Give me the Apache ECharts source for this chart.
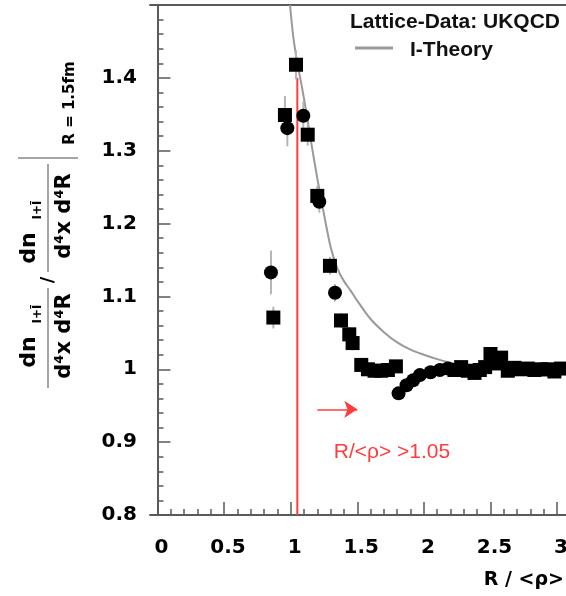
<!DOCTYPE html>
<html><head><meta charset="utf-8">
<script src="https://cdn.jsdelivr.net/npm/echarts@6/dist/echarts.min.js"></script>
<style>html,body{margin:0;padding:0;background:#fff}#c{width:566px;height:596px}</style>
</head><body><div id="c"></div>
<script>
// ---- data ----
const squareX   = [0.87, 0.957, 1.04, 1.128, 1.20, 1.295, 1.378, 1.44, 1.465, 1.53, 1.58, 1.63, 1.68, 1.73, 1.79, 2.23, 2.28, 2.33, 2.38, 2.42, 2.46, 2.50, 2.55, 2.58, 2.63, 2.68, 2.73, 2.78, 2.83, 2.88, 2.93, 2.98, 3.03];
const squareY   = [1.071, 1.349, 1.418, 1.322, 1.238, 1.142, 1.067, 1.048, 1.036, 1.006, 1.000, 0.998, 0.998, 0.999, 1.004, 0.999, 1.003, 0.998, 0.995, 0.999, 1.003, 1.021, 1.008, 1.016, 0.998, 1.002, 1.000, 1.001, 0.999, 1.000, 1.000, 0.997, 1.001];
const squareErr = [0.015, 0.026, 0.020, 0.015, 0.014, 0.012, 0.010, 0.010, 0.010, 0.008, 0.008, 0.008, 0.008, 0.008, 0.008, 0.008, 0.008, 0.008, 0.008, 0.008, 0.008, 0.009, 0.008, 0.008, 0.008, 0.008, 0.008, 0.008, 0.008, 0.008, 0.008, 0.008, 0.008];
const circleX   = [0.852, 0.975, 1.095, 1.215, 1.333, 1.81, 1.87, 1.92, 1.97, 2.05, 2.12, 2.18];
const circleY   = [1.133, 1.331, 1.348, 1.230, 1.105, 0.967, 0.978, 0.985, 0.992, 0.996, 0.999, 1.001];
const circleErr = [0.030, 0.025, 0.020, 0.015, 0.012, 0.008, 0.008, 0.008, 0.008, 0.008, 0.008, 0.008];
const theoryX   = [0.995, 1.02, 1.05, 1.08, 1.12, 1.16, 1.20, 1.25, 1.30, 1.35, 1.40, 1.45, 1.50, 1.60, 1.70, 1.80, 1.90, 2.00, 2.10, 2.20, 2.25];
const theoryY   = [1.500, 1.456, 1.420, 1.392, 1.350, 1.305, 1.262, 1.213, 1.168, 1.139, 1.121, 1.108, 1.094, 1.069, 1.051, 1.037, 1.027, 1.020, 1.014, 1.009, 1.007];
const cutX = [1.05, 1.05];
const cutY = [0.8, 1.40];
const arrowX = [1.2, 1.5];
const arrowY = [0.945, 0.945];
const xTicks = [0, 0.5, 1, 1.5, 2, 2.5, 3];
const xMinorTicks = [0.1,0.2,0.3,0.4,0.6,0.7,0.8,0.9,1.1,1.2,1.3,1.4,1.6,1.7,1.8,1.9,2.1,2.2,2.3,2.4,2.6,2.7,2.8,2.9,3.1];
const yTicks = [0.8, 0.9, 1.0, 1.1, 1.2, 1.3, 1.4];
const yMinorTicks = [];
for (let i = 0; i < 35; i++) { if (i % 5) yMinorTicks.push(+(0.8 + i * 0.02).toFixed(2)); }

const zip = (a, b, c) => a.map((v, i) => c ? [v, b[i], c[i]] : [v, b[i]]);

const chart = echarts.init(document.getElementById('c'));
const AX = '#5a5a5a';
const lblFont = {fontFamily: 'DejaVu Sans', fontWeight: 'bold', fontSize: 20, color: '#000'};

function errRender(params, api) {
  const x = api.value(0), y = api.value(1), e = api.value(2);
  const p1 = api.coord([x, y - e]), p2 = api.coord([x, y + e]);
  return {type: 'line', shape: {x1: p1[0], y1: p1[1], x2: p2[0], y2: p2[1]}, style: {stroke: '#b5b5b5', lineWidth: 2}};
}

const xBase = {type: 'value', min: -0.056, max: 3.067, splitLine: {show: false}};
const yBase = {type: 'value', min: 0.8, max: 1.5, splitLine: {show: false}};
const TF = '"DejaVu Sans"';

chart.setOption({
  animation: false,
  backgroundColor: '#fff',
  grid: {left: 150, right: 0, top: 5, bottom: 81, containLabel: false, outerBoundsMode: 'none'},
  xAxis: [
    Object.assign({}, xBase, {position: 'bottom',
      axisLine: {show: true, lineStyle: {color: AX, width: 2}},
      axisTick: {show: true, inside: true, length: 13, customValues: xTicks, lineStyle: {color: AX, width: 1.5}},
      axisLabel: Object.assign({customValues: xTicks, margin: 23, padding: [0, 0, 0, 8]}, lblFont)}),
    Object.assign({}, xBase, {position: 'bottom',
      axisLine: {show: false},
      axisTick: {show: true, inside: true, length: 6, customValues: xMinorTicks, lineStyle: {color: AX, width: 1.5}},
      axisLabel: {show: false}}),
    Object.assign({}, xBase, {position: 'top',
      axisLine: {show: true, lineStyle: {color: AX, width: 2}},
      axisTick: {show: false}, axisLabel: {show: false}})
  ],
  yAxis: [
    Object.assign({}, yBase, {position: 'left',
      axisLine: {show: true, lineStyle: {color: AX, width: 2}},
      axisTick: {show: true, inside: true, length: 13, customValues: yTicks, lineStyle: {color: AX, width: 1.5}},
      axisLabel: Object.assign({customValues: yTicks, margin: 13}, lblFont)}),
    Object.assign({}, yBase, {position: 'left',
      axisLine: {show: false},
      axisTick: {show: true, inside: true, length: 6, customValues: yMinorTicks, lineStyle: {color: AX, width: 1.5}},
      axisLabel: {show: false}})
  ],
  series: [
    {type: 'line', name: 'I-Theory', data: zip(theoryX, theoryY), smooth: 0.3, showSymbol: false,
     lineStyle: {color: '#9a9a9a', width: 2}, z: 2, clip: true},
    {type: 'line', data: zip(cutX, cutY), showSymbol: false, lineStyle: {color: '#ff3c3c', width: 2}, z: 3,
     markLine: {silent: true, symbol: ['none', 'arrow'], symbolSize: 13,
       lineStyle: {color: '#ff3c3c', width: 1.5, type: 'solid'}, label: {show: false},
       data: [[{coord: [arrowX[0], arrowY[0]]}, {coord: [arrowX[1], arrowY[1]]}]]}},
    {type: 'custom', renderItem: errRender, data: zip(squareX, squareY, squareErr), z: 4, encode: {x: 0, y: 1}},
    {type: 'custom', renderItem: errRender, data: zip(circleX, circleY, circleErr), z: 4, encode: {x: 0, y: 1}},
    {type: 'scatter', data: zip(squareX, squareY), symbol: 'rect', symbolSize: 14, itemStyle: {color: '#000', opacity: 1}, z: 5},
    {type: 'scatter', data: zip(circleX, circleY), symbol: 'circle', symbolSize: 14, itemStyle: {color: '#000', opacity: 1}, z: 5}
  ],
  graphic: [
    // legend
    {type: 'text', left: 350, top: 12, style: {text: 'Lattice-Data: UKQCD', font: 'bold 21px "Liberation Sans"', fill: '#111'}},
    {type: 'line', shape: {x1: 355, y1: 48, x2: 393, y2: 48}, style: {stroke: '#9a9a9a', lineWidth: 3}},
    {type: 'text', left: 410, top: 40, style: {text: 'I-Theory', font: 'bold 21px "Liberation Sans"', fill: '#111'}},
    // red annotation
    {type: 'text', x: 392, y: 452, style: {text: 'R/<ρ> >1.05', font: '21px "Liberation Sans"', fill: '#ff3c3c', align: 'center', verticalAlign: 'middle'}},
    // x axis title
    {type: 'text', right: 2, top: 571, style: {text: 'R / <ρ>', font: 'bold 19px "DejaVu Sans"', fill: '#000'}},
    // y axis title (rotated)
    {type: 'group', x: 0, y: 400, rotation: Math.PI / 2, children: [
      {type: 'text', x: 48, y: 29, style: {text: 'dn', font: 'bold 22px ' + TF, fill: '#000', align: 'center', verticalAlign: 'middle'}},
      {type: 'text', x: 86, y: 38, style: {text: 'I+Ī', font: 'bold 12px ' + TF, fill: '#000', align: 'center', verticalAlign: 'middle'}},
      {type: 'line', shape: {x1: 12, y1: 48, x2: 112, y2: 48}, style: {stroke: '#888', lineWidth: 1.5}},
      {type: 'text', x: 64, y: 65, style: {text: 'd⁴x d⁴R', font: 'bold 21px ' + TF, fill: '#000', align: 'center', verticalAlign: 'middle'}},
      {type: 'text', x: 120, y: 48, style: {text: '/', font: 'bold 18px ' + TF, fill: '#000', align: 'center', verticalAlign: 'middle'}},
      {type: 'text', x: 152, y: 29, style: {text: 'dn', font: 'bold 22px ' + TF, fill: '#000', align: 'center', verticalAlign: 'middle'}},
      {type: 'text', x: 190, y: 38, style: {text: 'I+Ī', font: 'bold 12px ' + TF, fill: '#000', align: 'center', verticalAlign: 'middle'}},
      {type: 'line', shape: {x1: 128, y1: 48, x2: 236, y2: 48}, style: {stroke: '#888', lineWidth: 1.5}},
      {type: 'text', x: 184, y: 65, style: {text: 'd⁴x d⁴R', font: 'bold 21px ' + TF, fill: '#000', align: 'center', verticalAlign: 'middle'}},
      {type: 'line', shape: {x1: 242, y1: 18, x2: 242, y2: 78}, style: {stroke: '#888', lineWidth: 1.5}},
      {type: 'text', x: 297, y: 70, style: {text: 'R = 1.5fm', font: 'bold 15px ' + TF, fill: '#000', align: 'center', verticalAlign: 'middle'}}
    ]}
  ]
});
</script></body></html>
